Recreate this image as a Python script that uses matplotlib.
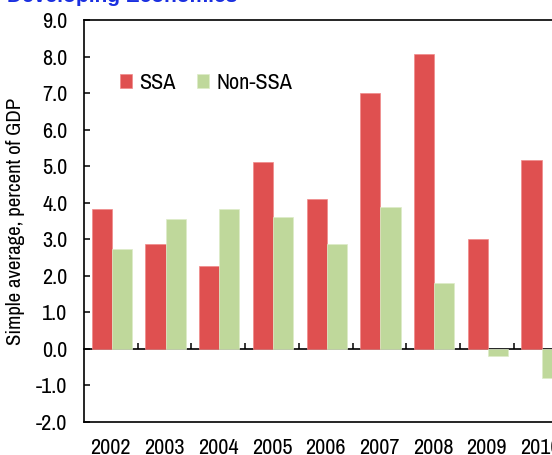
import numpy as np
import matplotlib
matplotlib.use('Agg')
import matplotlib.pyplot as plt

# values
years = ['2002', '2003', '2004', '2005', '2006', '2007', '2008', '2009', '2010']
ssa = [3.83, 2.87, 2.27, 5.12, 4.09, 7.0, 8.08, 3.0, 5.16]
non_ssa = [2.74, 3.56, 3.83, 3.62, 2.88, 3.87, 1.8, -0.2, -0.8]
yticks = [-2.0, -1.0, 0.0, 1.0, 2.0, 3.0, 4.0, 5.0, 6.0, 7.0, 8.0, 9.0]

plt.rcParams['font.family'] = ['Archivo Narrow', 'DejaVu Sans']
plt.rcParams['axes.unicode_minus'] = False

W, H = 552, 455
fig = plt.figure(figsize=(W / 100, H / 100), dpi=100)
# axes runs past the right edge, as in the cropped reference
left, top, bottom = 84, 20, 422
ax = fig.add_axes([left / W, 1 - bottom / H, 537 / W, (bottom - top) / H])

x = np.arange(len(years))
bw = 0.375
red = '#DF5050'
green = '#BFD89B'
ax.bar(x - bw / 2 + 0.02, ssa, bw, color=red, edgecolor='#F08A8A', linewidth=0.5, label='SSA')
ax.bar(x + bw / 2 + 0.02, non_ssa, bw, color=green, edgecolor='#DDEBC8', linewidth=0.5, label='Non-SSA')

ax.set_xlim(-0.5, 9.5)
ax.set_ylim(-2, 9)
ax.set_yticks(yticks)
ax.set_yticklabels([f'{v:.1f}' for v in yticks])
ax.set_xticks(x)
ax.set_xticklabels(years)
ax.tick_params(axis='x', length=0, pad=11.5, labelsize=16)
ax.tick_params(axis='y', direction='in', length=4.3, width=1.1, pad=12, labelsize=16)
for s in ['left', 'top', 'bottom']:
    ax.spines[s].set_linewidth(1.2)
ax.spines['right'].set_visible(False)

# zero line with category separator ticks
sec = ax.secondary_xaxis(2 / 11)
sec.set_xticks(np.arange(len(years)) + 0.5)
sec.set_xticklabels([])
sec.tick_params(direction='in', length=4.3, width=1.1)
sec.spines['bottom'].set_linewidth(1.2)

ax.set_ylabel('Simple average, percent of GDP', fontsize=15, labelpad=8)

ax.legend(loc='upper left', bbox_to_anchor=(0.05, 0.89), ncol=2, frameon=False,
          fontsize=16, handlelength=0.55, handleheight=0.6, handletextpad=0.3,
          columnspacing=1.0, borderaxespad=0)

fig.text(0.012, 1 - 6 / H, 'Developing Economies', color='#1a2fe0', fontsize=15,
         fontweight='bold', va='bottom', family=['Liberation Sans', 'DejaVu Sans'])

fig.savefig('out.png', dpi=100)
